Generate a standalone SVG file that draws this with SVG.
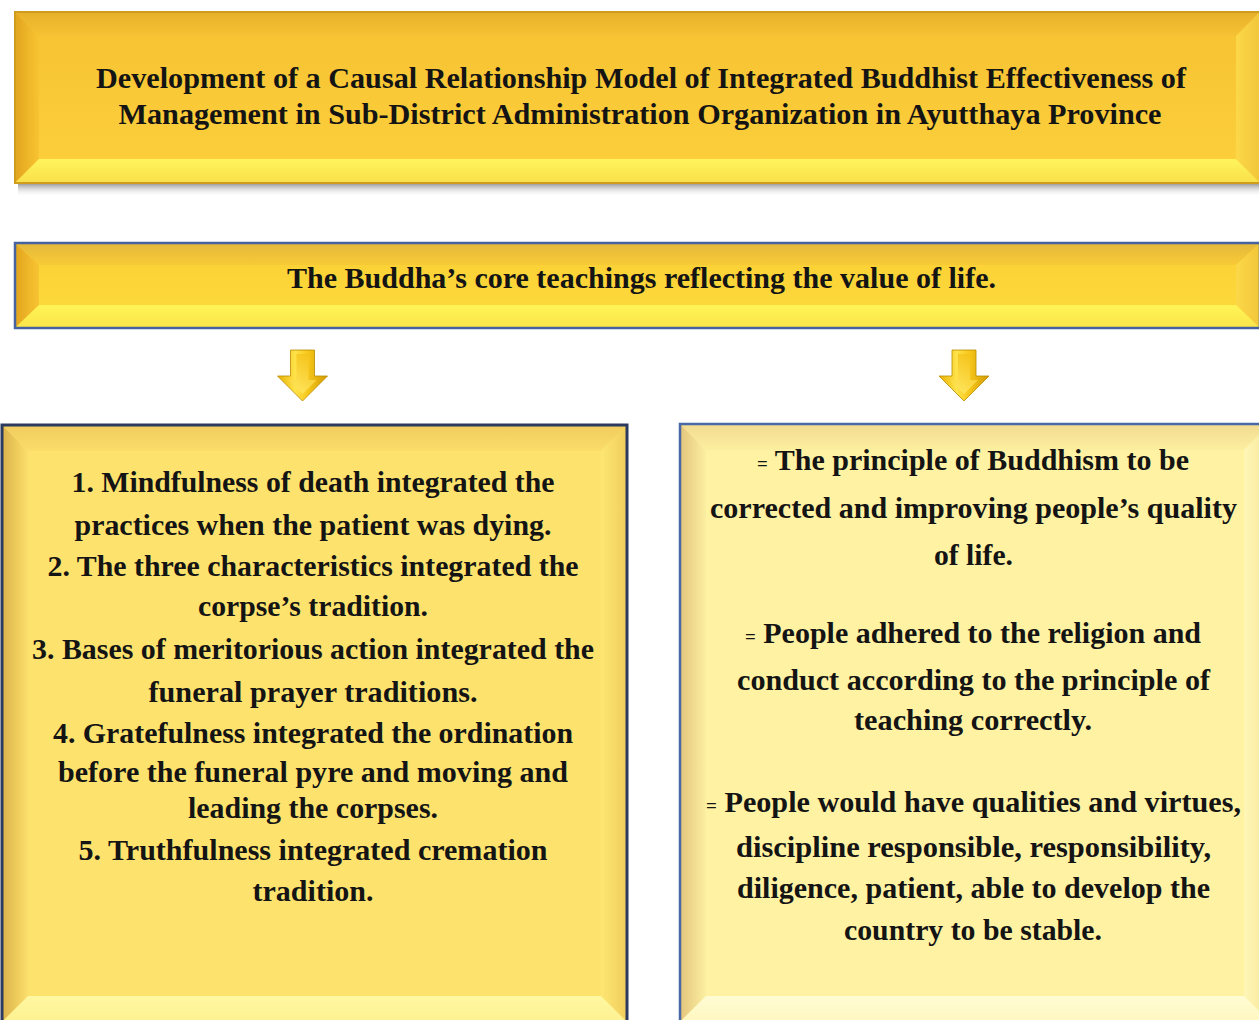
<svg xmlns="http://www.w3.org/2000/svg" width="1259" height="1020" viewBox="0 0 1259 1020">
  <defs>
    <style>
      .t { font-family: "Times New Roman", "Liberation Serif", Tinos, serif; font-weight: 700; font-size: 30px; fill: #141414; text-anchor: middle; }
      .eq { font-size: 19px; }
    </style>
    <!-- gold title bevel -->
    <linearGradient id="gFace" x1="0" y1="0" x2="0" y2="1">
      <stop offset="0" stop-color="#f6c232"/>
      <stop offset="1" stop-color="#fdd03c"/>
    </linearGradient>
    <linearGradient id="gTop" x1="0" y1="0" x2="0" y2="1">
      <stop offset="0" stop-color="#e7b02a"/>
      <stop offset="1" stop-color="#f6c234"/>
    </linearGradient>
    <linearGradient id="gLeft" x1="0" y1="0" x2="1" y2="0">
      <stop offset="0" stop-color="#e2a41e"/>
      <stop offset="1" stop-color="#f8c432"/>
    </linearGradient>
    <linearGradient id="gRight" x1="0" y1="0" x2="1" y2="0">
      <stop offset="0" stop-color="#fcd848"/>
      <stop offset="1" stop-color="#f2c63a"/>
    </linearGradient>
    <linearGradient id="gBottom" x1="0" y1="0" x2="0" y2="1">
      <stop offset="0" stop-color="#fff45c"/>
      <stop offset="1" stop-color="#f9e04a"/>
    </linearGradient>
    <!-- banner bevel -->
    <linearGradient id="bFace" x1="0" y1="0" x2="0" y2="1">
      <stop offset="0" stop-color="#fbcf34"/>
      <stop offset="1" stop-color="#fddc3e"/>
    </linearGradient>
    <linearGradient id="bTop" x1="0" y1="0" x2="0" y2="1">
      <stop offset="0" stop-color="#e4b83c"/>
      <stop offset="1" stop-color="#f8ca36"/>
    </linearGradient>
    <linearGradient id="bBottom" x1="0" y1="0" x2="0" y2="1">
      <stop offset="0" stop-color="#fff456"/>
      <stop offset="1" stop-color="#fbe54a"/>
    </linearGradient>
    <!-- left panel bevel -->
    <linearGradient id="lTop" x1="0" y1="0" x2="0" y2="1">
      <stop offset="0" stop-color="#f0cc5e"/>
      <stop offset="1" stop-color="#fbdd6a"/>
    </linearGradient>
    <linearGradient id="lLeft" x1="0" y1="0" x2="1" y2="0">
      <stop offset="0" stop-color="#dcb24a"/>
      <stop offset="1" stop-color="#fbdf6b"/>
    </linearGradient>
    <linearGradient id="lRight" x1="0" y1="0" x2="1" y2="0">
      <stop offset="0" stop-color="#fde673"/>
      <stop offset="1" stop-color="#f0cd5c"/>
    </linearGradient>
    <linearGradient id="lBottom" x1="0" y1="0" x2="0" y2="1">
      <stop offset="0" stop-color="#fff8a2"/>
      <stop offset="1" stop-color="#fdf090"/>
    </linearGradient>
    <!-- right panel bevel -->
    <linearGradient id="rTop" x1="0" y1="0" x2="0" y2="1">
      <stop offset="0" stop-color="#f2dc92"/>
      <stop offset="1" stop-color="#fcee9f"/>
    </linearGradient>
    <linearGradient id="rLeft" x1="0" y1="0" x2="1" y2="0">
      <stop offset="0" stop-color="#e3c57c"/>
      <stop offset="1" stop-color="#fcefa2"/>
    </linearGradient>
    <linearGradient id="rRight" x1="0" y1="0" x2="1" y2="0">
      <stop offset="0" stop-color="#fff6b6"/>
      <stop offset="1" stop-color="#f6e69c"/>
    </linearGradient>
    <linearGradient id="rBottom" x1="0" y1="0" x2="0" y2="1">
      <stop offset="0" stop-color="#fffcd4"/>
      <stop offset="1" stop-color="#fff7c0"/>
    </linearGradient>
    <!-- drop shadow strip -->
    <linearGradient id="shadow" x1="0" y1="0" x2="0" y2="1">
      <stop offset="0" stop-color="#7c7c7c" stop-opacity="0.85"/>
      <stop offset="1" stop-color="#ffffff" stop-opacity="0"/>
    </linearGradient>
    <!-- arrow -->
    <linearGradient id="aBody" x1="0" y1="0" x2="1" y2="0">
      <stop offset="0" stop-color="#e9b000"/>
      <stop offset="0.35" stop-color="#ffe34a"/>
      <stop offset="0.6" stop-color="#f7c81c"/>
      <stop offset="1" stop-color="#d29a00"/>
    </linearGradient>
    <linearGradient id="aInner" x1="0" y1="0" x2="0" y2="1">
      <stop offset="0" stop-color="#f4c21a"/>
      <stop offset="1" stop-color="#ffe866"/>
    </linearGradient>
  </defs>

  <rect width="1259" height="1020" fill="#ffffff"/>

  <!-- title block -->
  <g id="title">
    <rect x="18" y="183" width="1241" height="14" fill="url(#shadow)"/>
    <rect x="15" y="12" width="1245" height="171" fill="url(#gFace)"/>
    <polygon points="15,12 1260,12 1236,36 39,36" fill="url(#gTop)"/>
    <polygon points="15,12 39,36 39,159 15,183" fill="url(#gLeft)"/>
    <polygon points="1260,12 1236,36 1236,159 1260,183" fill="url(#gRight)"/>
    <polygon points="15,183 1260,183 1236,159 39,159" fill="url(#gBottom)"/>
    <rect x="15" y="12" width="1245" height="171" fill="none" stroke="#cf9c1c" stroke-width="2"/>
    <text class="t" x="641" y="88" textLength="1090" lengthAdjust="spacingAndGlyphs">Development of a Causal Relationship Model of Integrated Buddhist Effectiveness of</text>
    <text class="t" x="640" y="124" textLength="1043" lengthAdjust="spacingAndGlyphs">Management in Sub-District Administration Organization in Ayutthaya Province</text>
  </g>

  <!-- core teachings banner -->
  <g id="core">
    <rect x="15" y="243" width="1245" height="85" fill="url(#bFace)"/>
    <polygon points="15,243 1260,243 1236,265 39,265" fill="url(#bTop)"/>
    <polygon points="15,243 39,265 39,305 15,328" fill="url(#gLeft)"/>
    <polygon points="1260,243 1236,265 1236,305 1260,328" fill="url(#gRight)"/>
    <polygon points="15,328 1260,328 1236,305 39,305" fill="url(#bBottom)"/>
    <rect x="15" y="243" width="1245" height="85" fill="none" stroke="#4663a0" stroke-width="2.5"/>
    <text class="t" x="641.5" y="288" textLength="709" lengthAdjust="spacingAndGlyphs">The Buddha’s core teachings reflecting the value of life.</text>
  </g>

  <!-- connectors: block arrows down to the two panels -->
  <g id="connectors">
    <g id="arrow-left">
      <polygon points="290.5,350 314.5,350 314.5,376 327.5,376 302.5,401 277.5,376 290.5,376" fill="url(#aBody)" stroke="#b98a00" stroke-width="0.8"/>
      <polygon points="296.5,354 308.5,354 308.5,380 316.5,380 302.5,394 288.5,380 296.5,380" fill="url(#aInner)" opacity="0.75"/>
    </g>
    <g id="arrow-right">
      <polygon points="952,350 976,350 976,376 989,376 964,401 939,376 952,376" fill="url(#aBody)" stroke="#b98a00" stroke-width="0.8"/>
      <polygon points="958,354 970,354 970,380 978,380 964,394 950,380 958,380" fill="url(#aInner)" opacity="0.75"/>
    </g>
  </g>

  <!-- left panel: integrated practices -->
  <g id="practices">
    <rect x="2" y="425" width="625" height="597" fill="#fde36d"/>
    <polygon points="2,425 627,425 601,451 28,451" fill="url(#lTop)"/>
    <polygon points="2,425 28,451 28,996 2,1022" fill="url(#lLeft)"/>
    <polygon points="627,425 601,451 601,996 627,1022" fill="url(#lRight)"/>
    <polygon points="2,1022 627,1022 601,996 28,996" fill="url(#lBottom)"/>
    <rect x="2" y="425" width="625" height="597" fill="none" stroke="#2b3a5e" stroke-width="3"/>
    <text class="t" x="313" y="492" textLength="483" lengthAdjust="spacingAndGlyphs">1. Mindfulness of death integrated the</text>
    <text class="t" x="313" y="535" textLength="477" lengthAdjust="spacingAndGlyphs">practices when the patient was dying.</text>
    <text class="t" x="313" y="576" textLength="531" lengthAdjust="spacingAndGlyphs">2. The three characteristics integrated the</text>
    <text class="t" x="313" y="616" textLength="230" lengthAdjust="spacingAndGlyphs">corpse’s tradition.</text>
    <text class="t" x="313" y="659" textLength="562" lengthAdjust="spacingAndGlyphs">3. Bases of meritorious action integrated the</text>
    <text class="t" x="313" y="702" textLength="329" lengthAdjust="spacingAndGlyphs">funeral prayer traditions.</text>
    <text class="t" x="313" y="743" textLength="520" lengthAdjust="spacingAndGlyphs">4. Gratefulness integrated the ordination</text>
    <text class="t" x="313" y="782" textLength="510" lengthAdjust="spacingAndGlyphs">before the funeral pyre and moving and</text>
    <text class="t" x="313" y="818" textLength="250" lengthAdjust="spacingAndGlyphs">leading the corpses.</text>
    <text class="t" x="313" y="860" textLength="469" lengthAdjust="spacingAndGlyphs">5. Truthfulness integrated cremation</text>
    <text class="t" x="313" y="901" textLength="121" lengthAdjust="spacingAndGlyphs">tradition.</text>
  </g>

  <!-- right panel: outcomes -->
  <g id="outcomes">
    <rect x="680" y="424" width="590" height="598" fill="#fff2a3"/>
    <polygon points="680,424 1270,424 1244,450 706,450" fill="url(#rTop)"/>
    <polygon points="680,424 706,450 706,996 680,1022" fill="url(#rLeft)"/>
    <polygon points="1270,424 1244,450 1244,996 1270,1022" fill="url(#rRight)"/>
    <polygon points="680,1022 1270,1022 1244,996 706,996" fill="url(#rBottom)"/>
    <rect x="680" y="424" width="590" height="598" fill="none" stroke="#4a68a6" stroke-width="2.5"/>
    <text class="t" x="973" y="470" textLength="432" lengthAdjust="spacingAndGlyphs"><tspan class="eq">=</tspan> The principle of Buddhism to be</text>
    <text class="t" x="973.5" y="518" textLength="527" lengthAdjust="spacingAndGlyphs">corrected and improving people’s quality</text>
    <text class="t" x="973.5" y="565" textLength="79" lengthAdjust="spacingAndGlyphs">of life.</text>
    <text class="t" x="973" y="643" textLength="456" lengthAdjust="spacingAndGlyphs"><tspan class="eq">=</tspan> People adhered to the religion and</text>
    <text class="t" x="973.5" y="690" textLength="473" lengthAdjust="spacingAndGlyphs">conduct according to the principle of</text>
    <text class="t" x="973" y="730" textLength="238" lengthAdjust="spacingAndGlyphs">teaching correctly.</text>
    <text class="t" x="973.5" y="812" textLength="535" lengthAdjust="spacingAndGlyphs"><tspan class="eq">=</tspan> People would have qualities and virtues,</text>
    <text class="t" x="973.5" y="857" textLength="475" lengthAdjust="spacingAndGlyphs">discipline responsible, responsibility,</text>
    <text class="t" x="973.5" y="898" textLength="473" lengthAdjust="spacingAndGlyphs">diligence, patient, able to develop the</text>
    <text class="t" x="973" y="940" textLength="258" lengthAdjust="spacingAndGlyphs">country to be stable.</text>
  </g>
</svg>
